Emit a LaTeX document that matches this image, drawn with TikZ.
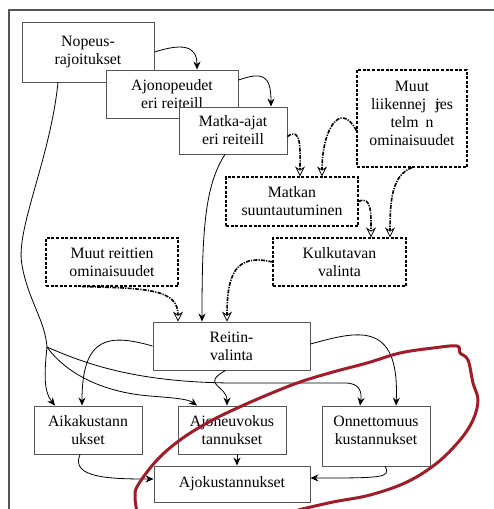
\documentclass[tikz,border=0pt]{standalone}
\usepackage{fontspec}
\setmainfont{Liberation Serif}
\usetikzlibrary{arrows.meta}
\definecolor{boxgray}{HTML}{555555}
\definecolor{redpen}{RGB}{160,28,40}
\tikzset{
  box/.style={draw=boxgray, line width=0.9pt, fill=white, align=center, inner sep=2pt,
    font=\fontsize{15.8}{18}\selectfont},
  dbox/.style={draw=black, line width=1.2pt, dash pattern=on 3pt off 1.6pt, fill=white, align=center, inner sep=2pt,
    font=\fontsize{15.8}{18}\selectfont},
  sarrow/.style={draw=black, line width=0.8pt, -{Stealth[length=8pt,width=7pt]}},
  darrow/.style={draw=black, line width=1.6pt, dash pattern=on 4pt off 1.2pt on 1.2pt off 1.2pt,
    -{Stealth[open,length=10pt,width=10pt,line width=0.8pt]}},
}
\begin{document}
\begin{tikzpicture}[x=1pt,y=-1pt]
\useasboundingbox (0,0) rectangle (494,509);
% frame
\draw[boxgray, line width=1.2pt] (9,520) -- (9,10) -- (510,10);
% nodes
\node[box, minimum width=132, minimum height=60] (nop) at (88,52) {Nopeus-\\rajoitukset};
\node[box, minimum width=132, minimum height=48] (ajo) at (172,94) {Ajonopeudet\\eri reiteill};
\node[box, minimum width=108, minimum height=47] (mat) at (233,130.5) {Matka-ajat\\eri reiteill};
\node[dbox, minimum width=110, minimum height=97] (muut) at (412,118.5) {Muut\\liikennej\hspace{9pt}\rlap{r}jes\\telm\hspace{7pt}n\\ominaisuudet\\[-8pt]\mbox{}};
\node[dbox, minimum width=132, minimum height=49] (msuu) at (292,201.5) {Matkan\\suuntautuminen};
\node[dbox, minimum width=133, minimum height=48] (kulk) at (339.5,262) {Kulkutavan\\valinta};
\node[dbox, minimum width=132, minimum height=48] (mre) at (112,262) {Muut reittien\\ominaisuudet};
\node[box, minimum width=157, minimum height=48] (reit) at (231.5,346) {Reitin-\\valinta};
\node[box, minimum width=108, minimum height=48] (aika) at (88,430) {Aikakustann\\ukset};
\node[box, minimum width=108, minimum height=48] (ajon) at (232,430) {Ajoneuvokus\\tannukset};
\node[box, minimum width=108, minimum height=60] (onn) at (376,436) {Onnettomuus\\kustannukset\\[-6pt]\mbox{}};
\node[box, minimum width=156, minimum height=36] (ajok) at (232,484) {Ajokustannukset};
\coordinate (j) at (47,347);
% solid connectors
\draw[sarrow] (nop.east) .. controls (180,44) and (197,44) .. ([xshift=25pt]ajo.north);
\draw[sarrow] ([yshift=14pt]ajo.east) .. controls (262,72) and (271,74) .. ([xshift=38pt]mat.north);
\draw[sarrow] ([xshift=-8pt]mat.south) .. controls (205,185) and (202,230) .. ([xshift=-29.5pt]reit.north);
\draw[line width=0.8pt] ([xshift=-30pt]nop.south) .. controls (50,160) and (15,230) .. (22,265) .. controls (28,300) and (45,320) .. (j);
\draw[sarrow] (j) .. controls (44,375) and (44,392) .. ([xshift=-33pt]aika.north);
\draw[sarrow] (j) .. controls (65,372) and (100,392) .. (150,396) .. controls (175,398) and (188,399) .. ([xshift=-35pt]ajon.north);
\draw[sarrow] (j) .. controls (90,366) and (140,382) .. (230,383) -- (345,383) .. controls (360,383) and (362,392) .. ([xshift=-16pt]onn.north);
\draw[sarrow] (reit.west) .. controls (110,334) and (82,335) .. ([xshift=-6pt]aika.north);
\draw[sarrow] ([xshift=-6pt]reit.south) .. controls (200,385) and (227,385) .. ([xshift=-5pt]ajon.north);
\draw[sarrow] ([yshift=2pt]reit.east) .. controls (355,332) and (400,318) .. ([xshift=20pt]onn.north);
\draw[sarrow] ([xshift=-8pt]aika.south) .. controls (70,478) and (110,479) .. ([yshift=5pt]ajok.west);
\draw[sarrow] ([xshift=5pt]ajon.south) -- ([xshift=5pt]ajok.north);
\draw[sarrow] ([xshift=9pt]onn.south) .. controls (392,478) and (380,478) .. ([yshift=6pt]ajok.east);
% dashed connectors
\draw[darrow] ([yshift=-6pt]mat.east) .. controls (302,126) and (300,150) .. ([xshift=8pt]msuu.north);
\draw[darrow] ([yshift=-12pt]muut.west) .. controls (340,100) and (322,130) .. ([xshift=30pt]msuu.north);
\draw[darrow] (muut.south) .. controls (392,175) and (390,200) .. ([xshift=50.5pt]kulk.north);
\draw[darrow] (msuu.east) .. controls (372,195) and (371,215) .. ([xshift=31.5pt]kulk.north);
\draw[darrow] (kulk.west) .. controls (235,253) and (227,275) .. ([xshift=-4.5pt]reit.north);
\draw[darrow] ([xshift=-30pt]mre.south) .. controls (150,288) and (178,290) .. ([xshift=-53.5pt]reit.north);
% red freehand loop
\draw[redpen, line width=3pt, line cap=round, line join=round] plot[smooth, tension=0.6] coordinates {
 (137,512) (135,497) (138,485) (157,460) (180,440) (207,423) (233,410) (267,395) (300,382)
 (333,372) (367,363) (400,353) (433,348) (457,346) (460,353) (468,360) (473,383) (478,400)
 (473,420) (460,440) (437,463) (407,482) (370,495) (333,502) (298,510)};
\end{tikzpicture}
\end{document}
